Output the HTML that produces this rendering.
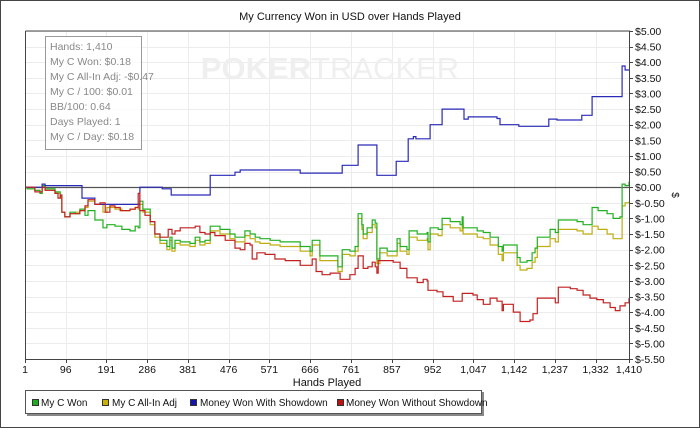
<!DOCTYPE html>
<html><head><meta charset="utf-8"><style>
html,body{margin:0;padding:0;background:#fff}
svg{display:block;font-family:"Liberation Sans",Arial,sans-serif}
</style></head><body>
<svg id="chart" width="700" height="428" viewBox="0 0 700 428">
<rect x="0.5" y="0.5" width="699" height="427" fill="#fff" stroke="#444"/>
<text x="350" y="20" font-size="11" text-anchor="middle" fill="#111">My Currency Won in USD over Hands Played</text>
<g id="grid"></g>
<text x="330" y="79" font-size="31" text-anchor="middle" fill="#efefef" font-weight="bold">POKER<tspan font-weight="normal">TRACKER</tspan></text>
<g id="series"></g>
<g id="axes"></g>
<g>
<rect x="45.5" y="36.5" width="96" height="113" fill="#fff" fill-opacity="0.85" stroke="#999"/>
<g font-size="10.5" fill="#888">
<text x="50" y="50">Hands: 1,410</text>
<text x="50" y="65">My C Won: $0.18</text>
<text x="50" y="80">My C All-In Adj: -$0.47</text>
<text x="50" y="95">My C / 100: $0.01</text>
<text x="50" y="110">BB/100: 0.64</text>
<text x="50" y="125">Days Played: 1</text>
<text x="50" y="140">My C / Day: $0.18</text>
</g></g>
<text x="327" y="386" font-size="11" text-anchor="middle" fill="#111">Hands Played</text>
<text x="672" y="195" font-size="10" text-anchor="middle" fill="#111" transform="rotate(90 672 195)">$</text>
<g>
<rect x="27" y="392" width="457" height="24" fill="#888"/>
<rect x="25.5" y="390.5" width="456" height="23" fill="#fff" stroke="#555"/>
<g font-size="10" fill="#111">
<rect x="32.5" y="399.5" width="6" height="6" fill="#22aa22" stroke="#333"/>
<text x="41" y="406">My C Won</text>
<rect x="102.5" y="399.5" width="6" height="6" fill="#c8b400" stroke="#333"/>
<text x="112" y="406">My C All-In Adj</text>
<rect x="190.5" y="399.5" width="6" height="6" fill="#1515aa" stroke="#333"/>
<text x="200" y="406">Money Won With Showdown</text>
<rect x="337.5" y="399.5" width="6" height="6" fill="#c01010" stroke="#333"/>
<text x="346" y="406">Money Won Without Showdown</text>
</g></g>
</svg>
<script>
const xTicks = [1,96,191,286,381,476,571,666,761,857,952,1047,1142,1237,1332,1410];
const yTicks = [5,4.5,4,3.5,3,2.5,2,1.5,1,0.5,0,-0.5,-1,-1.5,-2,-2.5,-3,-3.5,-4,-4.5,-5,-5.5];
const gyHands = [1,6,24,36,41,48,71,83,87,94,106,118,129,141,148,164,183,192,211,227,246,258,265,269,276,293,304,316,332,339,344,351,363,386,398,409,421,433,456,479,491,514,526,538,549,573,596,643,666,671,689,713,731,741,759,771,778,787,790,799,811,818,822,829,846,864,869,876,892,897,916,939,941,946,965,974,993,1016,1021,1023,1056,1070,1086,1105,1114,1117,1149,1156,1172,1184,1191,1196,1219,1226,1238,1245,1289,1303,1319,1324,1338,1359,1373,1389,1394,1401,1410];
const wonValues = [0,-0.05,-0.1,-0.2,0.05,-0.05,-0.15,-0.3,-0.8,-0.95,-0.8,-0.85,-0.7,-0.9,-0.75,-1.05,-1.3,-1.2,-1.25,-1.35,-1.4,-1.25,-1.3,-0.45,-0.7,-1.1,-1.5,-1.7,-1.9,-1.6,-1.95,-1.7,-1.75,-1.8,-1.6,-1.75,-1.7,-1.25,-1.35,-1.5,-1.6,-1.4,-1.5,-1.6,-1.65,-1.7,-1.75,-1.9,-2.05,-1.7,-2.2,-2.2,-2.55,-2.0,-2.05,-1.9,-0.85,-1.2,-1.5,-1.3,-1.05,-1.15,-2.3,-1.95,-2.05,-2.05,-1.65,-1.9,-2.0,-1.4,-1.5,-1.45,-1.75,-1.3,-1.35,-1.0,-1.1,-1.2,-0.95,-1.3,-1.4,-1.45,-1.6,-1.9,-2.05,-1.85,-2.25,-2.4,-2.35,-2.1,-1.95,-1.6,-1.6,-1.35,-1.45,-1.05,-1.1,-1.2,-1.2,-0.65,-0.75,-0.85,-1.0,-0.95,0.1,0.05,0.18];
const allInValues = [0,-0.05,-0.1,-0.2,0.05,-0.1,-0.2,-0.35,-0.8,-0.95,-0.85,-0.8,-0.75,-0.65,-0.45,-0.55,-0.8,-0.65,-0.7,-0.75,-0.7,-0.65,-0.7,-0.55,-0.8,-1.2,-1.6,-1.8,-2.0,-1.7,-2.05,-1.8,-1.85,-1.9,-1.7,-1.85,-1.8,-1.4,-1.5,-1.65,-1.75,-1.55,-1.65,-1.75,-1.8,-1.85,-1.9,-2.05,-2.2,-1.85,-2.35,-2.35,-2.7,-2.15,-2.2,-2.05,-1.0,-1.35,-1.65,-1.45,-1.2,-1.3,-2.45,-2.1,-2.2,-2.2,-1.8,-2.05,-2.15,-1.6,-1.7,-1.65,-2.0,-1.5,-1.55,-1.2,-1.3,-1.4,-1.15,-1.5,-1.6,-1.65,-1.85,-2.15,-2.35,-2.1,-2.5,-2.65,-2.6,-2.4,-2.25,-1.9,-1.9,-1.65,-1.75,-1.35,-1.4,-1.5,-1.5,-1.25,-1.35,-1.5,-1.65,-1.65,-0.6,-0.5,-0.47];
const sdHands = [1,41,48,134,164,269,321,342,433,491,503,643,741,778,822,867,895,907,913,946,974,1025,1035,1102,1109,1153,1223,1242,1300,1324,1394,1401,1410];
const sdValues = [0,0.1,0.05,-0.35,-0.55,0,-0.05,-0.25,0.38,0.48,0.55,0.45,0.7,1.35,0.38,0.83,1.55,1.62,1.55,2.0,2.5,2.18,2.25,2.2,2.0,1.95,2.18,2.15,2.3,2.9,3.88,3.75,3.75];
const nsdHands = [1,24,41,48,71,78,83,87,94,106,129,141,148,164,176,188,199,211,223,246,258,265,269,281,293,304,316,335,344,351,363,386,398,409,421,433,444,468,491,503,514,526,531,542,561,584,608,643,671,680,694,713,736,759,771,778,787,790,801,811,818,822,825,846,860,876,892,916,930,939,941,962,976,1000,1016,1021,1046,1056,1070,1081,1086,1102,1114,1117,1140,1156,1179,1186,1196,1226,1238,1245,1273,1289,1303,1319,1335,1350,1366,1378,1389,1401,1410];
const nsdValues = [0,-0.15,0,-0.1,-0.2,-0.35,-0.25,-0.8,-0.95,-0.85,-0.75,-0.6,-0.4,-0.55,-0.5,-0.8,-0.6,-0.65,-0.75,-0.7,-0.65,-0.2,-0.75,-0.9,-1.1,-1.5,-1.6,-1.35,-1.5,-1.4,-1.3,-1.3,-1.25,-1.45,-1.5,-1.45,-1.55,-1.7,-1.95,-2.0,-1.8,-1.85,-2.3,-2.1,-2.15,-2.3,-2.35,-2.5,-2.3,-2.7,-2.8,-2.75,-2.95,-2.8,-2.6,-2.2,-2.2,-2.6,-2.55,-2.4,-2.55,-2.75,-2.35,-2.35,-2.4,-2.6,-2.9,-3.05,-2.95,-3.0,-3.3,-3.35,-3.5,-3.65,-3.65,-3.4,-3.45,-3.6,-3.75,-3.75,-3.55,-3.65,-3.95,-3.75,-4.0,-4.3,-4.25,-4.05,-3.55,-3.55,-3.7,-3.2,-3.25,-3.3,-3.45,-3.55,-3.6,-3.7,-3.85,-3.95,-3.8,-3.7,-3.55];

const L=25,R=629,T=31,B=359,HMIN=1,HMAX=1410,VMAX=5,VMIN=-5.5;
function xs(h){return L+(h-HMIN)/(HMAX-HMIN)*(R-L);}
function ys(v){return T+(VMAX-v)/(VMAX-VMIN)*(B-T);}
const NS='http://www.w3.org/2000/svg';
function mk(tag,attrs,parent){const e=document.createElementNS(NS,tag);for(const k in attrs)e.setAttribute(k,attrs[k]);parent.appendChild(e);return e;}
const grid=document.getElementById('grid'),axes=document.getElementById('axes'),series=document.getElementById('series');
mk('rect',{x:L,y:T,width:R-L,height:B-T,fill:'#fff'},grid);
xTicks.forEach(t=>{const x=Math.round(xs(t))+0.5;
 const g=mk('line',{x1:x,x2:x,y1:T,y2:B,stroke:'#ececec'},grid);
 
 
 const tk=mk('line',{x1:x,x2:x,y1:B,y2:B+4,stroke:'#444'},axes);
 
 
 const lb=mk('text',{x:xs(t),y:B+14,'font-size':10.5,'text-anchor':'middle',fill:'#111'},axes);
 lb.textContent=t.toLocaleString('en-US');
 
 
});
yTicks.forEach(t=>{const y=Math.round(ys(t))+0.5;
 const g=mk('line',{x1:L,x2:R,y1:y,y2:y,stroke:'#ececec'},grid);
 
 
 const tk=mk('line',{x1:R,x2:R+4,y1:y,y2:y,stroke:'#444'},axes);
 
 
 const lb=mk('text',{x:R+6,y:ys(t)+4,'font-size':10.5,fill:'#111'},axes);
 lb.textContent=(t<0?'$-':'$')+Math.abs(t).toFixed(2);
 
 
});
const zl=mk('line',{x1:L,x2:R,y1:Math.round(ys(0))+0.5,y2:Math.round(ys(0))+0.5,stroke:'#555','stroke-width':1.2},grid);


const fr=mk('path',{d:`M${L+0.5},${T} V${B+0.5} H${R+0.5} V${T} H${L+0.5}`,fill:'none',stroke:'#444'},axes);


function stepPath(hs,vs){const n=Math.min(hs.length,vs.length);let d='';for(let i=0;i<n;i++){const x=xs(hs[i]).toFixed(1),y=ys(vs[i]).toFixed(1);if(i===0)d+=`M${x},${y}`;else d+=` H${x} V${y}`;}return d;}
function addSeries(hs,vs,color,name){const p=mk('path',{d:stepPath(hs,vs),fill:'none',stroke:color,'stroke-width':1.2},series);
 
 }
addSeries(gyHands,allInValues,'#bfae12','line-all-in-adj');
addSeries(gyHands,wonValues,'#22b022','line-my-c-won');
addSeries(sdHands,sdValues,'#2a2ab8','line-with-showdown');
addSeries(nsdHands,nsdValues,'#c42020','line-without-showdown');
</script>
</body></html>
